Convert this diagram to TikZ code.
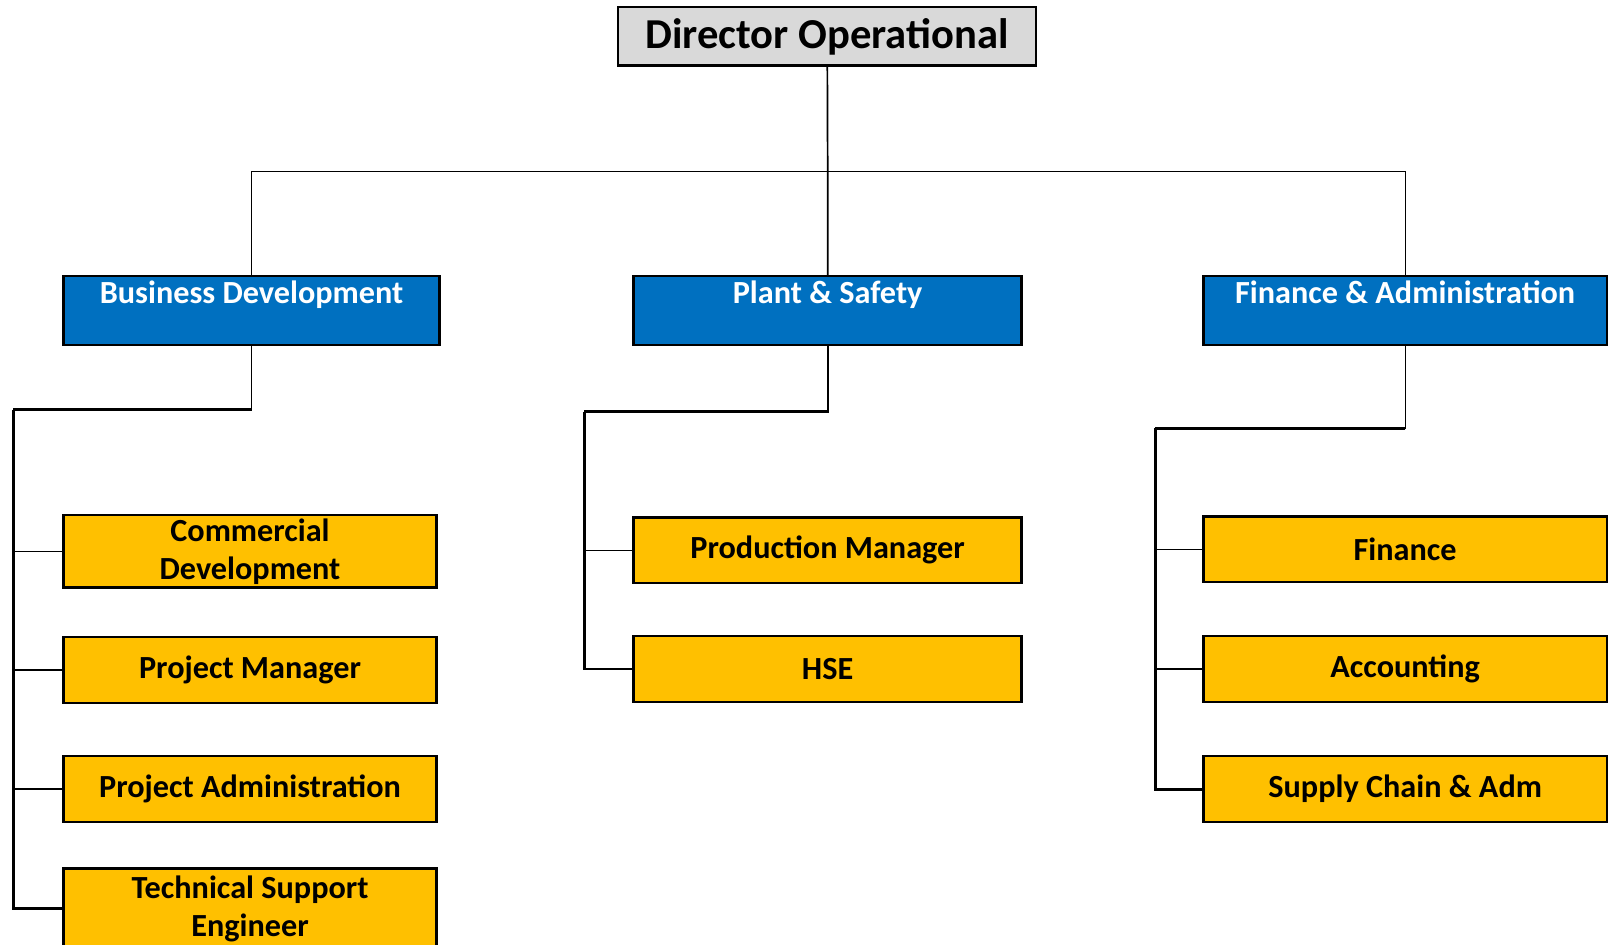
\documentclass[tikz,border=0pt]{standalone}
\usepackage{fontspec}
\setmainfont{Carlito}
\definecolor{HeadGray}{RGB}{217, 217, 217}
\definecolor{DeptBlue}{RGB}{0, 112, 192}
\definecolor{RoleGold}{RGB}{255, 192, 0}
\tikzstyle{director} = [rectangle, minimum width=407pt, minimum height=57pt, draw=black, fill=HeadGray, line width=2.5pt, font=\fontsize{41.5}{48}\selectfont\bfseries]
\tikzstyle{dept} = [rectangle, minimum height=65pt, inner ysep=6pt, text height=21pt, text depth=34pt, draw=black, fill=DeptBlue, text=white, line width=2.5pt, font=\fontsize{31.4}{37}\selectfont\bfseries]
\tikzstyle{role} = [rectangle, minimum height=64pt, align=center, draw=black, fill=RoleGold, line width=2.5pt, font=\fontsize{31.4}{37}\selectfont\bfseries]
\tikzstyle{link} = [line width=1.7pt]
\tikzstyle{branch} = [line width=2.7pt]

\begin{document}
\begin{tikzpicture}[x=1pt, y=-1pt, scale=1.0268, transform shape]
\useasboundingbox (0,0) rectangle (1568,920);
\clip (0,0) rectangle (1568,920);

% Direction
\node (director) [director] at (805.5,35.5) {Director Operational};

% Departements
\node (busdev) [dept, minimum width=366pt] at (245,302.5) {Business Development};
\node (plant) [dept, minimum width=378pt] at (806,302.5) {Plant \& Safety};
\node (finadm) [dept, minimum width=393pt] at (1368.5,302.5) {Finance \& Administration};

% Postes
\node (commdev) [role, minimum width=363pt] at (243.5,537) {Commercial\\Development};
\node (projmgr) [role, minimum width=363pt] at (243.5,652.5) {Project Manager};
\node (projadm) [role, minimum width=363pt] at (243.5,768.5) {Project Administration};
\node (techsup) [role, minimum width=363pt, minimum height=78pt] at (243.5,885) {Technical Support\\Engineer};

\node (prodmgr) [role, minimum width=378pt] at (806,536) {Production Manager};
\node (hse) [role, minimum width=378pt] at (806,651.5) {HSE};

\node (finance) [role, minimum width=393pt] at (1368.5,535) {Finance};
\node (account) [role, minimum width=393pt] at (1368.5,651.5) {Accounting};
\node (supply) [role, minimum width=393pt] at (1368.5,768.5) {Supply Chain \& Adm};

% Liaisons
\coordinate (topbus) at (806,167);
\draw [link] (director) -- (topbus);
\draw [link] (plant) -- (topbus);
\draw [link] (busdev.north) |- (topbus);
\draw [link] (finadm.north) |- (topbus);

\coordinate (bdbus) at (13,399);
\draw [link] (busdev.south) -- ++(0,63);
\draw [branch] (busdev.south |- bdbus) -- (bdbus);
\draw [branch] (bdbus) |- (techsup.west);
\draw [link] (bdbus |- commdev.west) -- (commdev.west);
\draw [link] (bdbus |- projmgr.west) -- (projmgr.west);
\draw [link] (bdbus |- projadm.west) -- (projadm.west);

\coordinate (psbus) at (569,401);
\draw [link] (plant.south) |- (psbus);
\draw [branch] (plant.south |- psbus) -- (psbus);
\draw [branch] (psbus) |- (hse.west);
\draw [link] (psbus |- prodmgr.west) -- (prodmgr.west);

\coordinate (fabus) at (1125,417);
\draw [link] (finadm.south) |- (fabus);
\draw [branch] (finadm.south |- fabus) -- (fabus);
\draw [branch] (fabus) |- (supply.west);
\draw [link] (fabus |- finance.west) -- (finance.west);
\draw [link] (fabus |- account.west) -- (account.west);

\end{tikzpicture}
\end{document}
